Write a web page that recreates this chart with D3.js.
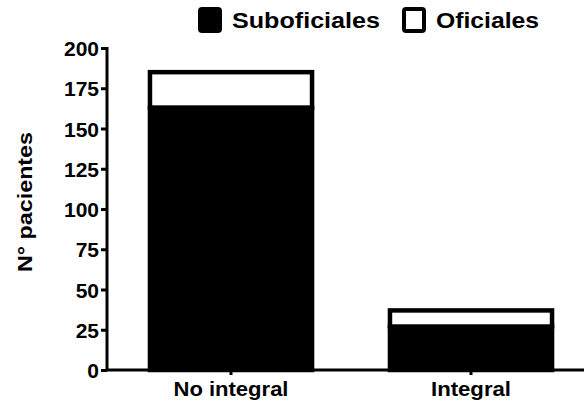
<!DOCTYPE html>
<html>
<head>
<meta charset="utf-8">
<script src="https://cdn.jsdelivr.net/npm/d3@7"></script>
<style>
  body { margin: 0; background: #fff; }
  text { font-family: "Liberation Sans", Arial, sans-serif; font-weight: bold; fill: #000; }
</style>
</head>
<body>
<div id="chart"></div>
<script>
var categories = ["No integral", "Integral"];
var seriesNames = ["Suboficiales", "Oficiales"];
var suboficiales = [163, 27];
var oficiales = [22, 10];
var yTicks = [0, 25, 50, 75, 100, 125, 150, 175, 200];

var width = 584, height = 404;
var svg = d3.select("#chart").append("svg")
	.attr("width", width)
	.attr("height", height);

var yScale = d3.scaleLinear()
	.domain([0, 200])
	.range([370, 48]);

var xScale = d3.scaleBand()
	.domain(categories)
	.range([111, 591])
	.paddingInner(0.308)
	.paddingOuter(0.154);

var rows = categories.map(function (c, i) {
	return { cat: c, Suboficiales: suboficiales[i], Oficiales: oficiales[i] };
});
var stacked = d3.stack().keys(seriesNames)(rows);
var fills = { Suboficiales: "#000", Oficiales: "#fff" };

// bars
stacked.forEach(function (layer) {
	svg.selectAll(".bar-" + layer.key)
		.data(layer)
		.enter().append("rect")
		.attr("class", "bar-" + layer.key)
		.attr("x", function (d) { return xScale(d.data.cat) + 2; })
		.attr("width", xScale.bandwidth() - 4)
		.attr("y", function (d) { return yScale(d[1]); })
		.attr("height", function (d) { return yScale(d[0]) - yScale(d[1]); })
		.attr("fill", fills[layer.key])
		.attr("stroke", "#000")
		.attr("stroke-width", 4.5);
});

// y axis
var yAxis = svg.append("g")
	.attr("transform", "translate(107,0)")
	.call(d3.axisLeft(yScale).tickValues(yTicks).tickSize(6).tickPadding(2));
yAxis.select(".domain").attr("stroke-width", 3).attr("d", "M0," + (yScale(200) - 1) + "V" + (yScale(0) + 1));
yAxis.selectAll(".tick line").attr("stroke-width", 3);
yAxis.selectAll(".tick text")
	.style("font-size", "21px")
	.style("font-family", "Liberation Sans, Arial, sans-serif")
	.style("font-weight", "bold")
	.attr("dy", "0.36em");

// x axis
var xLabelLen = { "No integral": 115, "Integral": 80 };
var xAxis = svg.append("g")
	.attr("transform", "translate(0,370)")
	.call(d3.axisBottom(xScale).tickSize(5).tickPadding(6));
xAxis.select(".domain").attr("stroke-width", 3).attr("d", "M106,0H584");
xAxis.selectAll(".tick line").attr("stroke-width", 3);
xAxis.selectAll(".tick text")
	.style("font-size", "21px")
	.style("font-family", "Liberation Sans, Arial, sans-serif")
	.style("font-weight", "bold")
	.attr("textLength", function (d) { return xLabelLen[d]; })
	.attr("lengthAdjust", "spacingAndGlyphs");

// y title
svg.append("text")
	.attr("transform", "translate(32,202) rotate(-90)")
	.attr("text-anchor", "middle")
	.attr("textLength", 140)
	.attr("lengthAdjust", "spacingAndGlyphs")
	.style("font-size", "21px")
	.text("N\u00b0 pacientes");

// legend
var legendX = [198, 402];
var legendLen = { Suboficiales: 148, Oficiales: 103 };
var legend = svg.selectAll(".legend")
	.data(seriesNames)
	.enter().append("g")
	.attr("class", "legend")
	.attr("transform", function (d, i) { return "translate(" + legendX[i] + ",7)"; });
legend.append("rect")
	.attr("x", 2).attr("y", 2)
	.attr("width", 20).attr("height", 22)
	.attr("rx", 2)
	.attr("fill", function (d) { return fills[d]; })
	.attr("stroke", "#000")
	.attr("stroke-width", 4);
legend.append("text")
	.attr("x", 34)
	.attr("y", 21)
	.attr("textLength", function (d) { return legendLen[d]; })
	.attr("lengthAdjust", "spacingAndGlyphs")
	.style("font-size", "22px")
	.text(function (d) { return d; });
</script>
</body>
</html>
